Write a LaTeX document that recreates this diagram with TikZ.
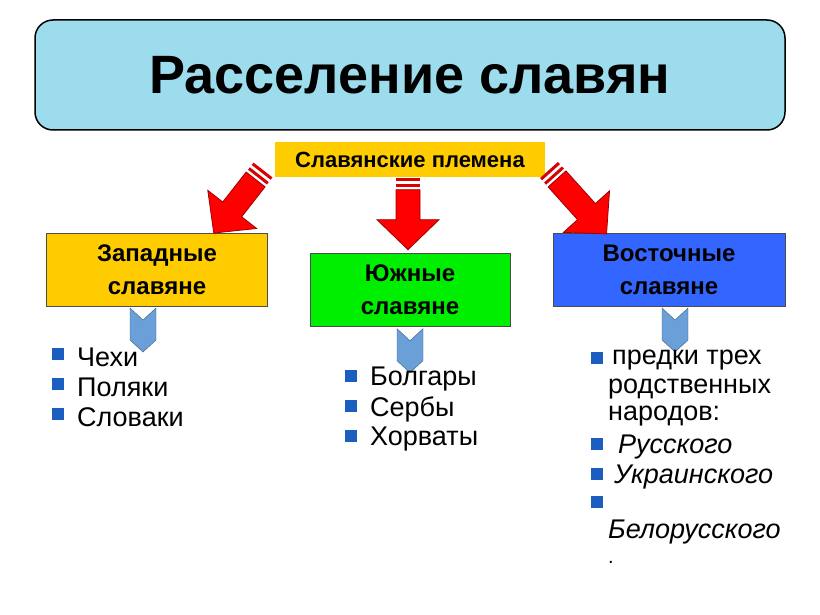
\documentclass[tikz,border=0pt]{standalone}
\usepackage{fontspec}
\setmainfont{Liberation Sans}
\usetikzlibrary{calc}
\definecolor{skyfill}{HTML}{9CDCEC}
\definecolor{goldfill}{HTML}{FFCC00}
\definecolor{greenfill}{HTML}{00EE00}
\definecolor{bluefill}{HTML}{3366FF}
\definecolor{chevfill}{HTML}{6A9FD8}
\definecolor{bulletblue}{HTML}{1A5FC0}
\definecolor{darkred}{HTML}{A00000}
\newcommand{\redarrow}[3]{% start, angle, length
  \begin{scope}[shift={#1},rotate=#2]
    \fill[red!85!black] (0,-12) rectangle (3,12);
    \fill[red!85!black] (6,-12) rectangle (9,12);
    \draw[darkred,fill=red,line width=0.8pt] (12,-12) -- ({#3-30},-12) -- ({#3-30},-31) -- (#3,0)
      -- ({#3-30},31) -- ({#3-30},12) -- (12,12) -- cycle;
  \end{scope}}
\newcommand{\chevron}[1]{%
  \draw[chevfill!60!black,fill=chevfill,shift={#1}] (-13,0) -- (0,-12) -- (13,0) -- (13,-32) -- (0,-44) -- (-13,-32) -- cycle;}
\newcommand{\sqbullet}[1]{\fill[bulletblue] ($#1+(-6,-6)$) rectangle ($#1+(6,6)$);}
\begin{document}
\begin{tikzpicture}[x=1pt,y=1pt]
  \tikzstyle{head}=[draw=black!70, font=\bfseries\fontsize{24}{33}\selectfont, align=center, inner sep=0pt]
  \tikzstyle{item}=[anchor=west, font=\fontsize{27}{30}\selectfont, inner sep=0pt]
  \tikzstyle{itemit}=[item, font=\itshape\fontsize{27}{30}\selectfont]
  \useasboundingbox (0,0) rectangle (820,-615);

  % title
  \node[draw, line width=1.5pt, rounded corners=18pt, fill=skyfill, minimum width=750pt, minimum height=110pt,
        font=\bfseries\fontsize{54}{60}\selectfont] (title) at (410,-75) {Расселение славян};
  \node[fill=goldfill, minimum width=270pt, minimum height=35pt, font=\bfseries\fontsize{22}{26}\selectfont] (tribes) at (410,-160) {Славянские племена};

  % groups
  \node[head, fill=goldfill, minimum width=221pt, minimum height=73pt] (west) at (157,-270) {Западные\\славяне};
  \node[head, fill=greenfill, minimum width=200pt, minimum height=73pt] (south) at (410,-290) {Южные\\славяне};
  \node[head, fill=bluefill, minimum width=232pt, minimum height=73pt] (east) at (669,-270) {Восточные\\славяне};

  % arrows
  \redarrow{(263,-170)}{-128}{80}
  \redarrow{($(tribes.south)+(-2,0)$)}{-90}{72}
  \redarrow{(549,-170)}{-48}{86}
  \chevron{(143,-308)}
  \chevron{($(south.south)+(0,-2)$)}
  \chevron{(675,-308)}

  % lists
  \sqbullet{(58,-354)} \node[item] (w1) at (77,-357) {Чехи};
  \sqbullet{(58,-384)} \node[item] (w2) at (77,-387) {Поляки};
  \sqbullet{(58,-414)} \node[item] (w3) at (77,-417) {Словаки};

  \sqbullet{(351,-376)} \node[item] (s1) at (370,-379) {Болгары};
  \sqbullet{(351,-406)} \node[item] (s2) at (370,-409) {Сербы};
  \sqbullet{(351,-436)} \node[item] (s3) at (370,-439) {Хорваты};

  \sqbullet{(597,-358)} \node[item] (e1) at (612,-360) {предки трех};
  \node[item] (e2) at (608,-389) {родственных};
  \node[item] (e3) at (608,-416) {народов:};
  \sqbullet{(597,-444)} \node[itemit] (e4) at (618,-447) {Русского};
  \sqbullet{(597,-474)} \node[itemit] (e5) at (614,-477) {Украинского};
  \sqbullet{(597,-502)}
  \node[itemit] (e6) at (608,-532) {Белорусского};
  \node[item, font=\fontsize{20}{22}\selectfont] (e7) at (608,-562) {.};
\end{tikzpicture}
\end{document}
